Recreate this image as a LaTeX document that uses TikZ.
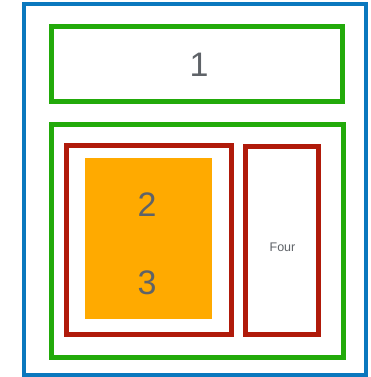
\documentclass[tikz,border=0pt]{standalone}
\usepackage{fontspec}
\setmainfont{Liberation Sans}
\definecolor{frameblue}{HTML}{0A78BE}
\definecolor{boxgreen}{HTML}{22AA0A}
\definecolor{boxred}{HTML}{B01A0A}
\definecolor{fillorange}{HTML}{FFAA00}
\definecolor{textgrey}{HTML}{5F6368}
\tikzset{
  greenbox/.style={draw=boxgreen,line width=5pt,rectangle,inner sep=0pt},
  redbox/.style={draw=boxred,line width=5pt,rectangle,inner sep=0pt},
  bignum/.style={text=textgrey,font=\fontsize{34}{38}\selectfont},
}
\begin{document}
\begin{tikzpicture}[x=1pt,y=-1pt]

  \useasboundingbox (0,0) rectangle (370,377);

  % Outer frame
  \draw[frameblue,line width=4pt] (24,4) rectangle (366,375);

  % Header
  \node[greenbox,minimum width=291pt,minimum height=75pt] (header) at (196.5,64.5) {};
  \node[bignum] (one) at (199,65) {1};

  % Body
  \node[greenbox,minimum width=292pt,minimum height=233pt] (body) at (197,240.5) {};

  % Left column
  \node[redbox,minimum width=165pt,minimum height=189pt] (left) at (148.5,239.5) {};
  \node[fill=fillorange,inner sep=0pt,minimum width=127pt,minimum height=161pt] (block) at (148.5,238.5) {};
  \node[bignum] (two) at (147,205) {2};
  \node[bignum] (three) at (147,283) {3};

  % Right column
  \node[redbox,minimum width=73pt,minimum height=188pt] (right) at (281.5,240) {};
  \node[text=textgrey,font=\fontsize{12.5}{15}\selectfont] (four) at (282.5,247.5) {Four};

\end{tikzpicture}
\end{document}
